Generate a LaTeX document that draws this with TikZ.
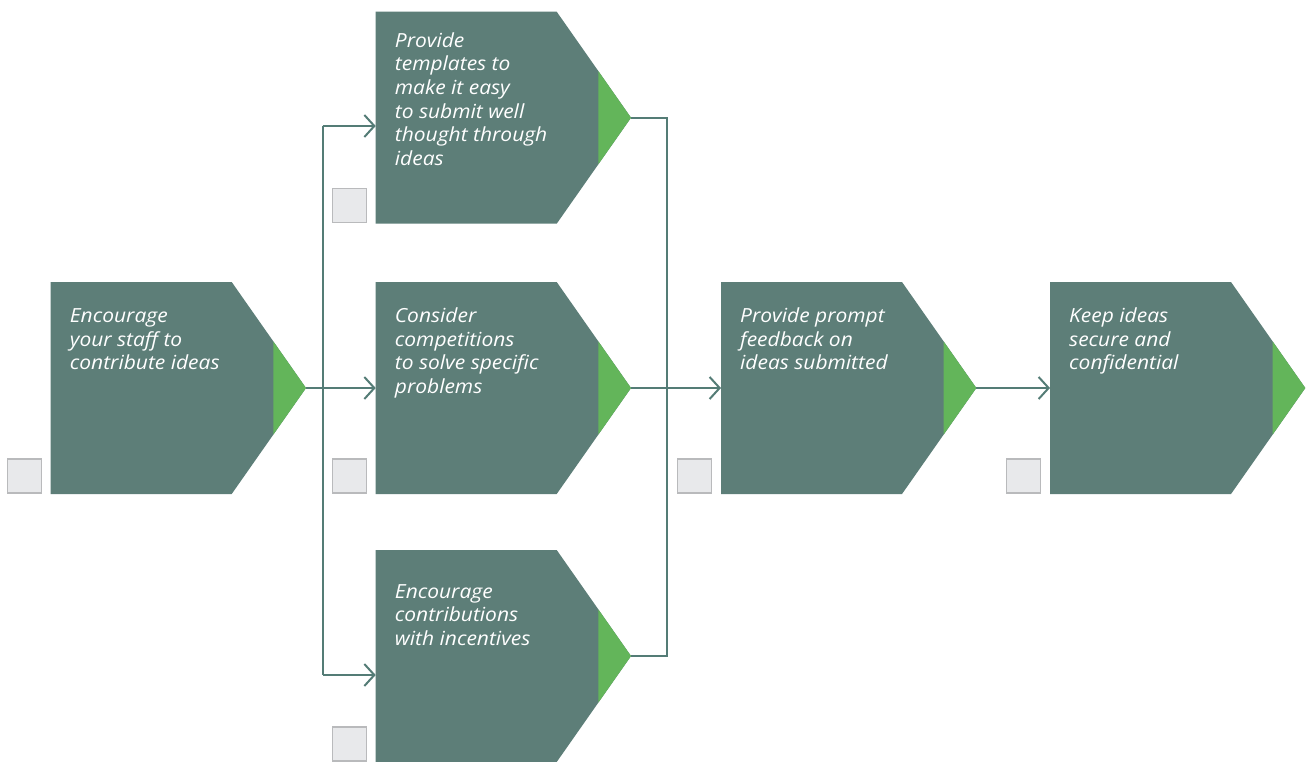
\documentclass[tikz,border=0pt]{standalone}
\usepackage{fontspec}
\setmainfont{Open Sans}[FakeStretch=1.08]
\usetikzlibrary{arrows.meta}
\definecolor{stepfill}{RGB}{93,126,120}
\definecolor{tipgreen}{RGB}{99,181,90}
\definecolor{connline}{RGB}{84,124,118}
\definecolor{boxfill}{RGB}{232,233,235}
\definecolor{boxline}{RGB}{185,186,188}
\tikzset{
  steptext/.style={anchor=base west, inner sep=0pt, text=white,
    font=\itshape\fontsize{19.5}{23.7}\selectfont},
  chkbox/.style={draw=boxline, fill=boxfill, minimum size=34bp, inner sep=0pt, line width=1.3bp},
  conn/.style={draw=connline, line width=2bp},
  arr/.style={conn, -{Straight Barb[length=10bp,width=22bp,line width=2bp]}}
}
\newcommand\procstep[5]{%
  \fill[stepfill] (#2,#3) -- ++(181,0) -- ++(74.3,106) -- ++(-74.3,106) -- ++(-181,0) -- cycle;
  \fill[tipgreen] ({#2+222.6},{#3+59.4}) -- ({#2+255.3},{#3+106}) -- ({#2+222.6},{#3+152.6}) -- cycle;
  \node[steptext] (#1) at ({#2+19},{#3+#4}) {\parbox[t]{230bp}{\raggedright #5}};
  \coordinate (#1-out) at ({#2+255.3},{#3+106});
  \node[chkbox] (#1-box) at ({#2-26.5},{#3+194}) {};
}
\begin{document}
\begin{tikzpicture}[x=1bp,y=-1bp]
\useasboundingbox (0,0) rectangle (1313,761);
\fill[white] (0,0) rectangle (1313,761);
\procstep{A}{50.7}{282}{40.5}{Encourage\\your staff to\\contribute ideas}
\procstep{B}{375.7}{11.7}{35.5}{Provide\\templates to\\make it easy\\to submit well\\thought through\\ideas}
\procstep{C}{375.7}{282}{40.5}{Consider\\competitions\\to solve specific\\problems}
\procstep{D}{375.7}{550}{48}{Encourage\\contributions\\with incentives}
\procstep{E}{721}{282}{40.5}{Provide prompt\\feedback on\\ideas submitted}
\procstep{F}{1050}{282}{40.5}{Keep ideas\\secure and\\confidential}
\coordinate (B-in) at (375.7,126);
\coordinate (C-in) at (375.7,388);
\coordinate (D-in) at (375.7,675);
\coordinate (E-in) at (721,388);
\coordinate (F-in) at (1050,388);
\coordinate (busL) at (322.5,388);
\coordinate (busR) at (666.5,388);
\draw[arr] (A-out) -- (A-out -| C-in);
\draw[conn] (busL |- B-in) -- (busL |- D-in);
\draw[arr] (busL |- B-in) -- (B-in);
\draw[arr] (busL |- D-in) -- (D-in);
\draw[conn] (B-out) -| (busR |- D-out) -- (D-out);
\draw[arr] (C-out) -- (C-out -| E-in);
\draw[arr] (E-out) -- (E-out -| F-in);
\end{tikzpicture}
\end{document}
